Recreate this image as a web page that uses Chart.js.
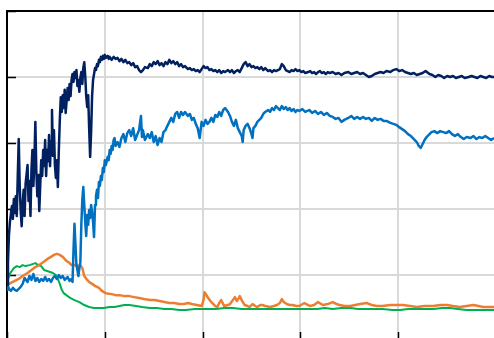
<!DOCTYPE html>
<html>
<head>
<meta charset="utf-8">
<script src="https://cdn.jsdelivr.net/npm/chart.js@4"></script>
<style>
  html, body { margin: 0; padding: 0; background: #fff; overflow: hidden; }
  #wrap { width: 500px; height: 350px; }
</style>
</head>
<body>
<div id="wrap"><canvas id="chartRun" width="500" height="350"></canvas></div>
<script>
// values (x: 0..500, y: 0..100)
const navyX = [0,1,2,3,4,5,6,7,8,9,10,11,12,13,14,15,16,17,18,19,21,22,23,24,25,26,27,28,29,30,31,32,33,34,35,36,37,38,39,40,41,42,43,44,45,46,47,48,49,50,51,52,53,54,55,56,57,58,59,60,
  62,63,64,65,66,67,68,69,70,71,72,73,74,75,76,77,78,79,80,81,82,83,84,85,86,87,88,89,90,91,92,93,94,95,96,97,98,99,100,101,103,104,105,
  107,109,111,113,115,117,119,121,123,125,127,129,131,133,135,137,139,141,144,146,148,150,152,154,156,158,160,162,164,166,168,170,172,174,176,178,180,182,
  185,187,189,191,193,195,197,199,201,203,205,207,209,211,213,215,217,219,221,223,226,228,230,232,234,236,238,240,242,244,246,248,250,252,254,256,258,260,262,264,
  267,269,271,273,275,277,279,281,283,285,287,289,291,293,295,297,299,301,303,305,308,310,312,314,316,318,320,322,324,326,328,330,333,336,339,342,345,
  349,352,355,358,361,364,367,370,373,376,379,382,385,388,392,395,398,401,404,407,410,413,416,419,422,425,428,432,435,438,441,444,447,450,453,456,459,462,465,
  468,472,475,478,481,484,487,490,493,496,498];
const navyY = [17.0,23.9,32.1,36.1,38.5,40.9,37.0,43.0,38.8,43.9,37.9,50.0,61.2,47.0,39.4,34.8,41.5,45.8,37.9,47.6,53.3,42.4,48.5,37.9,51.8,57.9,47.0,54.8,66.4,51.5,43.9,50.3,39.4,47.3,54.8,50.0,57.9,53.0,60.9,50.0,57.9,54.5,62.4,53.0,60.6,70.0,56.1,63.9,53.3,49.4,54.8,46.7,57.9,67.0,73.9,69.4,74.5,70.6,76.1,69.1,
  76.7,73.0,77.9,74.2,79.1,80.9,78.5,81.5,79.7,82.1,77.3,79.1,75.5,79.7,81.5,77.9,82.7,84.5,80.3,74.2,70.9,74.5,64.5,55.8,63.3,74.2,79.1,80.9,82.7,82.1,83.9,83.3,85.2,84.5,86.1,85.2,86.4,85.5,86.7,85.8,86.4,85.5,86.1,
  85.2,86.1,85.5,85.8,84.8,85.5,84.5,85.2,84.2,84.5,83.6,84.2,83.0,83.3,82.1,81.5,82.1,83.0,82.7,83.9,83.3,84.5,83.9,84.8,83.6,84.2,83.3,84.5,83.9,85.2,84.2,84.8,83.9,84.5,83.3,83.9,83.0,83.3,
  82.4,82.7,82.1,82.4,81.8,82.1,81.5,82.4,83.3,82.7,83.0,82.1,82.4,81.8,82.1,81.5,82.1,81.2,81.8,81.5,82.1,81.5,82.1,81.2,81.8,82.1,81.5,82.7,83.9,84.5,83.3,83.9,83.0,83.3,82.7,83.0,82.4,83.0,82.1,82.7,
  81.8,82.1,81.5,82.1,81.8,82.1,82.4,83.9,83.3,82.1,81.8,81.5,82.1,81.8,82.4,81.8,82.1,81.5,81.8,81.2,81.5,81.8,81.2,81.5,80.9,81.5,81.8,81.2,81.5,80.9,81.5,81.2,81.5,80.9,81.2,80.6,81.2,
  81.5,80.9,81.2,81.5,80.9,81.2,80.6,80.0,80.3,80.9,81.2,81.5,81.2,81.8,81.5,82.1,82.4,81.8,82.1,81.5,81.2,80.9,81.2,80.6,80.9,81.2,81.8,80.9,80.6,80.0,80.6,80.3,79.7,80.3,80.0,80.3,79.7,80.0,80.3,79.7,
  80.0,80.3,80.0,79.7,80.3,80.0,79.7,80.3,80.0,80.0];

const blueX = [0,1,2,4,6,8,10,12,14,16,18,21,23,25,27,29,31,33,35,37,39,41,43,45,47,49,51,53,55,57,59,62,64,66,67,68,69,70,71,72,73,74,75,76,77,78,79,80,81,82,83,84,85,86,87,88,89,90,91,92,93,94,95,96,97,98,99,100,101,
  103,104,105,106,107,108,109,110,111,113,115,117,119,121,123,125,127,129,131,133,135,137,138,139,141,144,146,148,150,152,154,156,158,160,162,164,166,168,170,172,174,176,178,180,182,
  185,187,189,191,193,195,197,199,201,203,205,207,209,211,213,215,217,219,221,223,226,228,230,232,234,236,238,240,241,242,244,246,248,250,251,252,254,256,258,260,262,264,
  267,269,271,273,275,277,279,281,283,285,287,289,291,293,295,297,299,302,305,309,312,315,318,321,324,327,330,333,336,339,342,345,
  349,352,355,358,361,364,367,370,373,376,379,382,385,388,392,395,398,401,404,407,410,413,416,419,421,423,425,427,429,432,434,437,440,443,446,449,452,455,458,461,464,467,470,474,477,480,483,486,489,492,495,498];
const blueY = [15.5,16.7,15.8,15.2,16.1,15.5,15.2,15.8,16.4,17.3,19.1,17.9,19.7,18.5,20.3,18.2,19.1,17.9,18.8,18.2,19.4,18.2,18.8,17.9,19.1,19.7,18.8,20.0,19.1,19.7,18.5,19.4,18.2,18.8,17.9,27.6,35.5,29.1,23.0,21.5,19.7,22.1,23.9,35.2,42.7,46.7,41.2,36.1,31.8,38.2,35.2,39.7,37.3,41.2,39.1,36.1,31.5,41.2,43.9,45.8,43.3,48.2,47.0,50.0,48.8,52.4,51.2,54.8,53.3,
  55.8,54.8,57.9,56.7,59.1,57.9,60.9,61.5,59.1,60.3,58.8,61.5,62.7,60.3,63.0,63.9,62.1,64.5,60.9,62.4,63.9,68.2,61.8,63.9,60.9,62.7,61.5,63.3,60.3,62.1,59.4,61.5,60.3,63.3,63.9,65.2,66.4,67.6,66.4,68.8,69.4,67.6,69.4,68.5,69.4,
  68.2,68.8,67.0,67.6,65.8,64.5,61.5,66.4,65.2,67.0,65.8,66.4,67.6,66.4,68.5,67.9,69.4,68.2,70.0,70.6,69.4,68.2,66.4,65.2,67.0,64.5,63.3,62.1,60.3,63.9,65.2,65.8,64.5,62.7,61.5,64.5,65.2,66.4,67.0,67.6,68.8,69.4,
  70.0,69.4,70.6,70.0,71.2,70.6,70.0,71.2,70.3,70.9,70.0,70.6,69.7,70.3,69.4,70.0,69.7,70.3,69.4,70.0,69.1,69.7,68.8,69.4,68.5,69.1,68.2,67.9,67.3,67.6,66.4,67.0,
  67.6,68.2,67.3,67.9,67.3,67.9,67.3,67.6,66.7,67.6,67.0,67.3,66.7,66.7,66.1,65.8,65.5,64.8,64.2,63.6,62.7,62.1,61.2,60.3,59.1,58.5,59.7,60.9,61.8,62.7,63.3,63.6,63.0,63.6,63.3,63.0,63.6,62.7,62.1,62.7,61.8,61.2,61.8,61.5,62.1,61.2,61.8,61.5,62.1,61.5,60.9,61.5];

const orangeX = [0,4,8,12,16,21,25,29,33,37,41,45,48,51,54,57,60,64,66,69,72,75,77,79,82,84,87,90,94,97,101,107,111,115,120,125,130,135,140,146,151,156,161,166,171,176,181,
  185,189,194,199,201,202,204,205,208,210,213,215,217,219,221,222,226,228,231,233,235,237,238,240,243,246,248,251,254,256,259,261,264,269,273,276,279,281,283,286,289,292,296,299,304,
  310,314,318,323,328,333,337,340,345,351,356,361,368,373,378,384,392,398,405,412,419,427,436,443,450,456,463,470,477,482,487,492,498];
const orangeY = [17.0,17.6,18.2,18.8,19.7,20.6,21.5,22.4,23.0,23.9,24.8,25.5,26.1,26.4,26.1,25.5,24.5,23.6,23.0,23.0,22.7,23.0,22.1,19.7,18.5,17.9,17.3,16.7,16.1,15.2,14.5,14.2,13.9,13.9,13.6,13.6,13.3,13.0,12.7,12.4,12.4,12.1,11.8,11.5,11.5,11.2,11.2,
  11.5,11.2,10.9,10.6,12.4,14.8,13.9,13.3,12.1,11.5,10.6,10.3,11.5,12.4,11.2,10.6,10.9,11.2,12.4,13.3,12.1,13.0,13.6,12.4,10.9,10.6,10.3,11.2,10.6,10.3,10.9,10.9,10.6,10.3,10.6,10.9,11.5,12.7,11.8,11.2,10.9,10.9,10.6,10.6,11.5,
  10.6,10.9,11.8,10.9,11.2,11.8,11.2,10.9,10.6,10.6,10.9,11.2,11.5,10.9,10.6,10.6,10.9,10.9,10.9,10.6,10.3,10.6,10.6,10.9,10.9,10.6,10.3,10.6,10.9,10.6,10.3,10.3,10.3];

const greenX = [0,2,4,7,10,13,16,19,23,26,29,32,35,38,41,44,47,50,52,54,56,58,62,65,69,74,79,84,89,94,99,105,110,115,120,125,132,138,146,153,161,168,176,183,
  192,197,207,214,222,231,240,248,256,265,274,282,291,299,308,317,325,333,342,351,359,368,376,384,394,402,410,419,427,436,445,453,461,470,479,487,498];
const greenY = [17.6,19.7,20.9,22.1,22.7,22.4,23.0,22.7,23.0,23.3,23.6,23.0,22.7,21.5,21.2,20.9,20.6,20.0,18.8,17.3,15.5,14.5,13.6,13.0,12.4,11.8,10.9,10.3,10.0,10.0,10.0,10.3,10.3,10.6,10.9,10.9,10.6,10.3,10.0,10.0,9.7,9.7,9.4,9.4,
  9.7,9.7,9.7,9.7,10.0,10.0,9.7,9.7,9.7,9.7,9.7,9.7,9.7,9.7,9.7,9.7,10.0,9.7,10.0,10.0,9.7,9.7,9.7,9.7,9.4,9.4,9.7,9.7,9.7,9.7,10.0,10.0,9.7,9.4,9.4,9.4,9.4];

const pairs = (xs, ys) => xs.map((x, i) => ({x: x, y: ys[i]}));

// small black tick marks pointing into the plot
const innerTicks = {
  id: 'innerTicks',
  beforeDatasetsDraw(chart) {
    const {ctx, chartArea: a, scales: {x, y}} = chart;
    ctx.save();
    ctx.strokeStyle = '#000';
    ctx.lineWidth = 1.5;
    ctx.beginPath();
    y.ticks.forEach(t => {
      const py = Math.round(y.getPixelForValue(t.value)) + 0.5;
      ctx.moveTo(a.left, py);
      ctx.lineTo(a.left + 9, py);
    });
    x.ticks.forEach(t => {
      const px = Math.round(x.getPixelForValue(t.value)) + 0.5;
      ctx.moveTo(px, a.bottom);
      ctx.lineTo(px, a.bottom - 9);
    });
    ctx.stroke();
    ctx.restore();
  }
};

const gridOpts = { color: '#d9d9d9', lineWidth: 2, drawTicks: false };

new Chart(document.getElementById('chartRun'), {
  type: 'line',
  data: {
    datasets: [
      { label: 'Série 1', data: pairs(navyX, navyY), borderColor: '#002060', borderWidth: 2.5 },
      { label: 'Série 2', data: pairs(blueX, blueY), borderColor: '#0070c0', borderWidth: 2.5 },
      { label: 'Série 3', data: pairs(orangeX, orangeY), borderColor: '#ed7d31', borderWidth: 2.5 },
      { label: 'Série 4', data: pairs(greenX, greenY), borderColor: '#00b050', borderWidth: 2 }
    ]
  },
  options: {
    responsive: false,
    animation: false,
    events: [],
    elements: { point: { radius: 0 }, line: { tension: 0, borderJoinStyle: 'round' } },
    layout: { padding: { left: 7, top: 11, right: 4, bottom: 9 } },
    plugins: { legend: { display: false }, tooltip: { enabled: false } },
    scales: {
      x: {
        type: 'linear', min: 0, max: 500,
        ticks: { display: false, stepSize: 100 },
        grid: gridOpts,
        border: { color: '#000', width: 2 }
      },
      xTop: {
        type: 'linear', position: 'top', min: 0, max: 500,
        ticks: { display: false },
        grid: { display: false, drawTicks: false },
        border: { display: true, color: '#000', width: 2 }
      },
      y: {
        min: 0, max: 100,
        ticks: { display: false, stepSize: 20 },
        grid: gridOpts,
        border: { color: '#000', width: 2 }
      }
    }
  },
  plugins: [innerTicks]
});
</script>
</body>
</html>
